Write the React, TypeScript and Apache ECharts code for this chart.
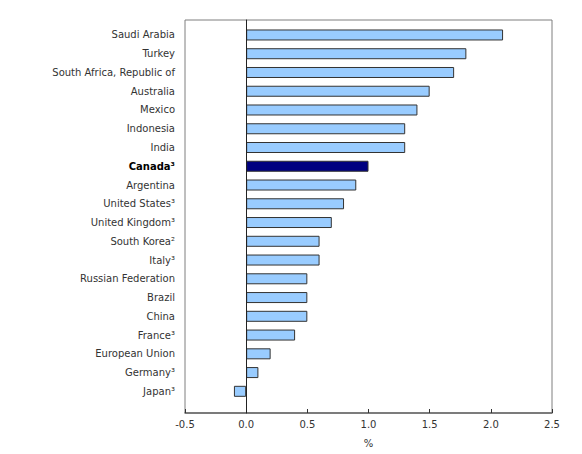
import React, { useEffect, useRef } from "react";
import * as echarts from "echarts";

const categories = [
  "Saudi Arabia",
  "Turkey",
  "South Africa, Republic of",
  "Australia",
  "Mexico",
  "Indonesia",
  "India",
  "Canada³",
  "Argentina",
  "United States³",
  "United Kingdom³",
  "South Korea²",
  "Italy³",
  "Russian Federation",
  "Brazil",
  "China",
  "France³",
  "European Union",
  "Germany³",
  "Japan³",
];

const values = [2.1, 1.8, 1.7, 1.5, 1.4, 1.3, 1.3, 1.0, 0.9, 0.8, 0.7, 0.6, 0.6, 0.5, 0.5, 0.5, 0.4, 0.2, 0.1, -0.1];

const highlight = "Canada³";

const FONT = "DejaVu Sans";

export default function App() {
  const ref = useRef<HTMLDivElement>(null);
  useEffect(() => {
    if (!ref.current) return;
    const chart = echarts.init(ref.current, null, { renderer: "svg" });
    const cats = [...categories].reverse();
    const vals = [...values].reverse();
    chart.setOption({
      animation: false,
      grid: [
        { left: 185, right: 30, top: 25.6, bottom: 53.3, containLabel: false },
        { left: 185, right: 30, top: 20, bottom: 41, show: true, borderColor: "#7f7f7f", borderWidth: 1, backgroundColor: "transparent", z: 0 },
      ],
      xAxis: [
        { gridIndex: 0, type: "value", min: -0.5, max: 2.5, show: false },
        {
          gridIndex: 1,
          type: "value",
          min: -0.5,
          max: 2.5,
          interval: 0.5,
          name: "%",
          nameLocation: "middle",
          nameGap: 25,
          nameTextStyle: { fontFamily: FONT, fontSize: 10, color: "#333" },
          axisLine: { show: true, lineStyle: { color: "#666", width: 1.5 } },
          axisTick: { show: true, inside: true, length: 4, lineStyle: { color: "#333" } },
          axisLabel: {
            fontFamily: FONT,
            fontSize: 10,
            color: "#333",
            margin: 6,
            formatter: (v: number) => v.toFixed(1),
          },
          splitLine: { show: false },
        },
      ],
      yAxis: [
        {
          gridIndex: 0,
          type: "category",
          data: cats,
          axisLine: { show: false },
          axisTick: { show: false },
          axisLabel: {
            fontFamily: FONT,
            fontSize: 10,
            color: "#333",
            margin: 10,
            formatter: (v: string) => (v === highlight ? `{b|${v}}` : v),
            rich: { b: { fontFamily: FONT, fontSize: 10, fontWeight: "bold", color: "#000" } },
          },
        },
        {
          gridIndex: 1,
          type: "value",
          min: 0,
          max: 1,
          axisLine: { show: true, onZero: true, lineStyle: { color: "#222", width: 1 } },
          axisTick: { show: false },
          axisLabel: { show: false },
          splitLine: { show: false },
          z: 5,
        },
      ],
      series: [
        {
          type: "bar",
          xAxisIndex: 0,
          yAxisIndex: 0,
          barWidth: 11,
          data: vals.map((v, i) => ({
            value: v,
            itemStyle: {
              color: cats[i] === highlight ? "#000080" : "#99ccff",
              borderColor: "#333",
              borderWidth: 1,
            },
          })),
          z: 3,
        },
      ],
    });
    return () => chart.dispose();
  }, []);
  return <div ref={ref} style={{ width: 582, height: 454, position: "absolute", left: 0, top: 0 }} />;
}
